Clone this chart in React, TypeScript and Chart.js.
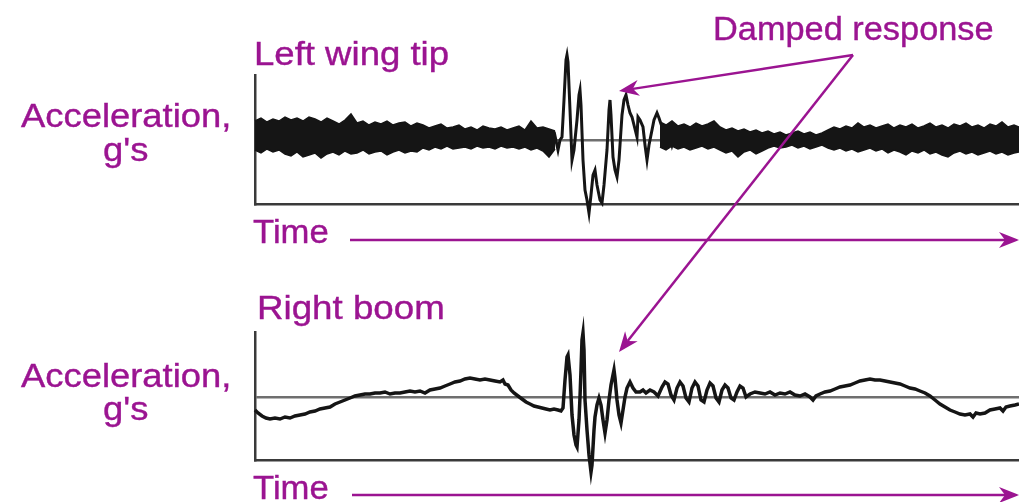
import React, { useEffect, useRef } from "react";
import { Chart, registerables } from "chart.js";

Chart.register(...registerables);

// ---------------- DATA ----------------
// Time is in arbitrary units along the record; acceleration in arbitrary units (0 = reference line).

// Left wing tip: envelope of the dense vibration band before the event
const TOP_BAND_TIME_A = [0, 6, 12, 18, 24, 30, 36, 42, 48, 54, 60, 66, 72, 78, 84, 90, 96, 102, 108, 114, 120, 126, 132, 138, 144, 150, 156, 162, 168, 174, 180, 186, 192, 198, 204, 210, 216, 222, 228, 234, 240, 246, 252, 258, 264, 270, 276, 282, 288, 294, 300];
const TOP_BAND_MAX_A = [19, 22, 18, 21, 19, 23, 20, 22, 19, 23, 21, 18, 22, 19, 16, 20, 26, 17, 19, 15, 18, 16, 19, 15, 17, 18, 14, 17, 15, 12, 14, 16, 12, 13, 15, 11, 13, 10, 14, 12, 11, 13, 10, 12, 14, 10, 19, 12, 13, 11, 9];
const TOP_BAND_MIN_A = [-10, -13, -9, -12, -10, -14, -16, -12, -17, -15, -13, -18, -14, -12, -15, -11, -14, -13, -10, -14, -12, -11, -15, -12, -10, -13, -11, -12, -8, -10, -7, -9, -6, -9, -8, -7, -9, -6, -8, -7, -9, -6, -8, -7, -9, -7, -10, -8, -11, -17, -9];

// Left wing tip: envelope of the vibration band after the event
const TOP_BAND_TIME_B = [405, 411, 417, 423, 429, 435, 441, 447, 453, 459, 465, 471, 477, 483, 489, 495, 501, 507, 513, 519, 525, 531, 537, 543, 549, 555, 561, 567, 573, 579, 585, 591, 597, 603, 609, 615, 621, 627, 633, 639, 645, 651, 657, 663, 669, 675, 681, 687, 693, 699, 705, 711, 717, 723, 729, 735, 741, 747, 753, 759, 764];
const TOP_BAND_MAX_B = [18, 15, 19, 14, 16, 13, 17, 14, 16, 19, 13, 10, 12, 9, 11, 8, 10, 7, 9, 6, 8, 5, 7, 9, 6, 8, 5, 7, 10, 13, 11, 14, 12, 17, 13, 15, 12, 14, 16, 12, 15, 13, 16, 12, 14, 17, 13, 15, 12, 16, 14, 17, 13, 15, 12, 16, 14, 18, 13, 15, 13];
const TOP_BAND_MIN_B = [-7, -10, -6, -9, -7, -10, -8, -6, -9, -7, -10, -13, -11, -17, -12, -10, -14, -11, -8, -6, -8, -7, -5, -8, -6, -9, -7, -5, -8, -10, -8, -11, -9, -12, -10, -8, -11, -9, -13, -10, -12, -15, -11, -13, -10, -14, -12, -15, -17, -13, -11, -14, -12, -15, -13, -11, -14, -12, -15, -13, -12];

// Left wing tip: trace through the damped response
const TOP_EVENT_TIME = [293, 297, 300, 303, 305, 307, 309, 311, 312, 313, 315, 317, 319, 322, 324, 325, 326, 328, 330, 332, 334, 336, 338, 340, 342, 345, 347, 349, 352, 354, 355, 356, 358, 360, 362, 364, 367, 369, 371, 373, 375, 377, 379, 382, 383, 385, 388, 390, 392, 394, 397, 399, 402, 404, 407, 410, 413, 417, 421, 425];
const TOP_EVENT_VALUE = [2, -3, 4, -10, 0, 3, 40, 80, 85, 78, 30, -20, -10, 20, 45, 50, 35, -20, -50, -60, -73, -55, -35, -30, -45, -60, -63, -45, -10, 30, 40, 25, -17, -30, -37, -20, 25, 40, 45, 35, 27, 23, 15, 3, 23, 20, 13, -5, -20, -5, 10, 20, 27, 22, 13, 5, 12, -5, 9, 0];

// Right boom: full trace
const BOTTOM_TIME = [0, 3, 7, 11, 15, 20, 25, 30, 35, 40, 45, 50, 55, 60, 65, 70, 75, 80, 85, 90, 95, 100, 105, 110, 115, 120, 125, 130, 135, 140, 145, 150, 155, 160, 165, 170, 175, 180, 185, 190, 195, 200, 205, 210, 215, 220, 225, 230, 235, 240, 245, 248, 250, 253, 256, 259, 263, 267, 271, 275, 279, 283, 287, 291, 295, 299, 303, 306, 308, 310, 312, 313, 315, 317, 319, 321, 322, 324, 325, 326, 327, 328, 329, 330, 332, 334, 336, 337, 339, 340, 342, 344, 346, 348, 350, 352, 354, 356, 359, 360, 362, 364, 366, 368, 370, 372, 375, 378, 381, 385, 388, 391, 395, 399, 403, 407, 410, 413, 416, 419, 422, 425, 428, 431, 434, 437, 440, 443, 446, 449, 452, 455, 458, 461, 464, 467, 470, 473, 476, 479, 482, 485, 488, 491, 495, 500, 505, 510, 515, 520, 525, 530, 535, 540, 545, 550, 555, 558, 561, 565, 570, 575, 580, 585, 590, 595, 600, 605, 610, 615, 620, 625, 630, 635, 640, 645, 650, 655, 660, 665, 670, 675, 680, 685, 690, 695, 700, 705, 710, 715, 718, 721, 725, 730, 735, 740, 745, 748, 751, 755, 760, 764];
const BOTTOM_VALUE = [-13, -16, -19, -21, -22, -21, -22, -20, -21, -19, -18, -17, -15, -14, -12, -11, -10, -7, -5, -3, -1, 1, 2, 3, 3, 4, 4, 5, 3, 4, 4, 5, 6, 5, 6, 4, 7, 8, 9, 11, 13, 15, 16, 18, 19, 18, 17, 18, 17, 16, 15, 17, 13, 12, 7, 4, 1, -2, -5, -7, -9, -10, -11, -12, -13, -12, -13, -14, -11, 17, 40, 42, 22, -18, -38, -48, -50, -23, 0, 27, 57, 64, 47, -3, -33, -58, -75, -68, -33, -20, -8, -1, -8, -23, -36, -23, -3, 12, 27, 19, -3, -18, -26, -13, 0, 9, 15, 9, 5, 5, 7, 4, 7, 5, 1, 10, 15, 13, 2, -3, 9, 15, 11, -1, -5, 9, 15, 11, -3, -5, 7, 14, 11, -1, -5, 7, 12, 9, -1, -3, 5, 11, 9, 0, 3, 5, 4, 3, 5, 2, 4, 3, 5, 2, 1, 3, 0, -3, 1, 3, 5, 6, 8, 10, 11, 12, 14, 16, 17, 18, 17, 17, 16, 15, 14, 13, 11, 9, 8, 6, 4, 1, -3, -7, -10, -13, -15, -17, -18, -17, -20, -16, -17, -16, -13, -12, -11, -14, -10, -9, -8, -7];

// Axis ranges (arbitrary units, 0 = reference line)
const TIME_RANGE = [0, 764];
const TOP_RANGE = [-64, 65];
const BOTTOM_RANGE = [-63, 65];

// Labels
const PANEL_TITLES = ["Left wing tip", "Right boom"];
const Y_TITLE = ["Acceleration,", "g's"];
const X_TITLE = "Time";
const CALLOUT = "Damped response";

// ---------------- STYLE ----------------
const PURPLE = "#9b1491";
const INK = "#151515";
const AXIS = "#3a3a3a";
const FONT = '"Liberation Sans", Arial, Helvetica, sans-serif';

const pts = (xs: number[], ys: number[]) => xs.map((x, i) => ({ x, y: ys[i] }));

function baseOptions(yRange: number[], padding: any) {
  return {
    animation: false,
    responsive: false,
    maintainAspectRatio: false,
    layout: { padding },
    plugins: { legend: { display: false }, tooltip: { enabled: false }, title: { display: false } },
    elements: { point: { radius: 0 }, line: { tension: 0 } },
    scales: {
      x: {
        type: "linear",
        min: TIME_RANGE[0],
        max: TIME_RANGE[1],
        grid: { display: false, drawTicks: false },
        ticks: { display: false },
        border: { display: true, color: AXIS, width: 2.5 },
      },
      y: {
        type: "linear",
        min: yRange[0],
        max: yRange[1],
        grid: { drawTicks: false, color: "#6f6f6f", lineWidth: 2.5 },
        ticks: { display: false },
        border: { display: true, color: AXIS, width: 2.5 },
        afterBuildTicks: (s: any) => {
          s.ticks = [{ value: 0 }];
        },
      },
    },
  } as any;
}

function band(xs: number[], hi: number[], lo: number[]) {
  return [
    { data: pts(xs, hi), borderColor: INK, borderWidth: 1.5, fill: false, clip: false },
    { data: pts(xs, lo), borderColor: INK, borderWidth: 1.5, fill: "-1", backgroundColor: INK, clip: false },
  ];
}

function Label({ text, left, top, sx }: { text: string; left: number; top: number; sx: number }) {
  return (
    <div
      style={{
        position: "absolute",
        left,
        top,
        fontFamily: FONT,
        fontSize: 34,
        lineHeight: "34px",
        color: PURPLE,
        whiteSpace: "nowrap",
        transform: `scaleX(${sx})`,
        transformOrigin: "left top",
        WebkitTextStroke: "0.4px " + PURPLE,
      }}
    >
      {text}
    </div>
  );
}

function Arrow({ x1, y1, x2, y2 }: { x1: number; y1: number; x2: number; y2: number }) {
  const a = Math.atan2(y2 - y1, x2 - x1);
  const L = 20, W = 8, N = 6;
  const ux = Math.cos(a), uy = Math.sin(a);
  const px = -uy, py = ux;
  const bx = x2 - ux * L, by = y2 - uy * L;
  const nx = x2 - ux * (L - N), ny = y2 - uy * (L - N);
  const head = `M${x2},${y2} L${bx + px * W},${by + py * W} L${nx},${ny} L${bx - px * W},${by - py * W} Z`;
  return (
    <g>
      <line x1={x1} y1={y1} x2={nx} y2={ny} stroke={PURPLE} strokeWidth={2.5} />
      <path d={head} fill={PURPLE} />
    </g>
  );
}

export default function App() {
  const topRef = useRef<HTMLCanvasElement>(null);
  const botRef = useRef<HTMLCanvasElement>(null);

  useEffect(() => {
    document.body.style.margin = "0";
    const top = new Chart(topRef.current as HTMLCanvasElement, {
      type: "line",
      data: {
        datasets: [
          ...band(TOP_BAND_TIME_A, TOP_BAND_MAX_A, TOP_BAND_MIN_A),
          ...band(TOP_BAND_TIME_B, TOP_BAND_MAX_B, TOP_BAND_MIN_B),
          { data: pts(TOP_EVENT_TIME, TOP_EVENT_VALUE), borderColor: INK, borderWidth: 3, fill: false, clip: false },
        ],
      } as any,
      options: baseOptions(TOP_RANGE, { left: 255, top: 75, right: 0, bottom: 46 }),
    });
    const bot = new Chart(botRef.current as HTMLCanvasElement, {
      type: "line",
      data: {
        datasets: [
          { data: pts(BOTTOM_TIME, BOTTOM_VALUE), borderColor: INK, borderWidth: 3.5, fill: false, clip: false },
        ],
      } as any,
      options: baseOptions(BOTTOM_RANGE, { left: 255, top: 82, right: 0, bottom: 42 }),
    });
    return () => {
      top.destroy();
      bot.destroy();
    };
  }, []);

  return (
    <div style={{ position: "absolute", left: 0, top: 0, width: 1019, height: 502, background: "#fff", overflow: "hidden" }}>
      <canvas ref={topRef} width={1019} height={250} style={{ position: "absolute", left: 0, top: 0, width: 1019, height: 250 }} />
      <canvas ref={botRef} width={1019} height={252} style={{ position: "absolute", left: 0, top: 250, width: 1019, height: 252 }} />

      <Label text={PANEL_TITLES[0]} left={254} top={36} sx={1.075} />
      <Label text={PANEL_TITLES[1]} left={257} top={290} sx={1.08} />

      <Label text={Y_TITLE[0]} left={21} top={98} sx={1.07} />
      <Label text={Y_TITLE[1]} left={103} top={132} sx={1.07} />
      <Label text={Y_TITLE[0]} left={21} top={358} sx={1.07} />
      <Label text={Y_TITLE[1]} left={103} top={391} sx={1.07} />

      <Label text={X_TITLE} left={253} top={214} sx={1.02} />
      <Label text={X_TITLE} left={253} top={470} sx={1.02} />

      <Label text={CALLOUT} left={713} top={11} sx={1.01} />

      <svg width={1019} height={502} style={{ position: "absolute", left: 0, top: 0, pointerEvents: "none" }}>
        <Arrow x1={350} y1={240} x2={1019} y2={240} />
        <Arrow x1={352} y1={495} x2={1019} y2={495} />
        <Arrow x1={853} y1={55} x2={619} y2={91} />
        <Arrow x1={853} y1={55} x2={619} y2={352} />
      </svg>
    </div>
  );
}
